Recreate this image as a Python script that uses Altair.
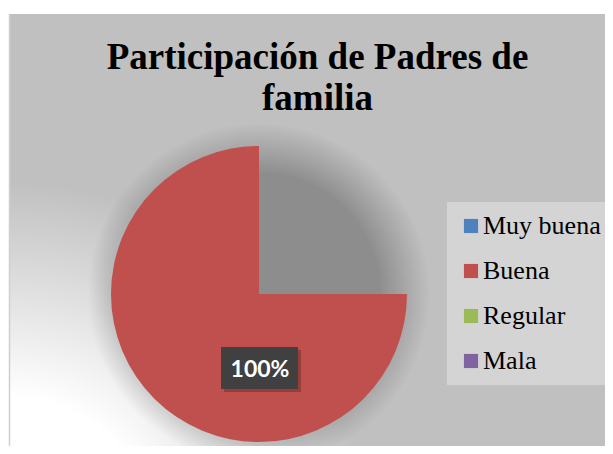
import math
import altair as alt
import pandas as pd

# ---- data ----
categorias = ["Muy buena", "Buena", "Regular", "Mala"]
porcentajes = [0, 100, 0, 0]
etiquetas = ["0%", "100%", "0%", "0%"]
colores = ["#4F81BD", "#C0504D", "#9BBB59", "#8064A2"]
titulo = ["Participación de Padres de", "familia"]

df = pd.DataFrame({
    "categoria": categorias,
    "porcentaje": porcentajes,
    "etiqueta": etiquetas,
    "orden": list(range(len(categorias))),
})

W, H = 597, 438
CX, CY = 251, 286
R = 148
TWO_PI = 2 * math.pi

blank = alt.Data(values=[{}])

# background with radial gradient (white bottom-left, gray elsewhere)
fondo = alt.Chart(blank).mark_rect(
    fill=alt.Gradient(
        gradient="radial",
        x1=0.0, y1=1.02, r1=0.24,
        x2=0.0, y2=1.02, r2=0.6,
        stops=[alt.GradientStop(color="#ffffff", offset=0),
               alt.GradientStop(color="#c0c0c0", offset=1)],
    ),
).encode(x=alt.value(1), x2=alt.value(W), y=alt.value(6), y2=alt.value(H))

borde = alt.Chart(blank).mark_rule(color="#cfcfcf", strokeWidth=1.5).encode(
    x=alt.value(1.5), y=alt.value(6), y2=alt.value(H)
)

# soft shadow under the pie
sombras = []
for k in range(17):
    r = 122 + 3 * k
    sombras.append(
        alt.Chart(blank).mark_arc(x=CX, y=CY, fill="black", fillOpacity=0.0145).encode(
            theta=alt.value(0), theta2=alt.value(TWO_PI), radius=alt.value(r)
        )
    )

pastel = alt.Chart(df).mark_arc(x=CX, y=CY, radius=R).encode(
    theta=alt.Theta("porcentaje:Q", stack=True,
                    scale=alt.Scale(domain=[0, 100], range=[math.pi / 2, TWO_PI])),
    color=alt.Color(
        "categoria:N", sort=categorias,
        scale=alt.Scale(domain=categorias, range=colores),
        legend=alt.Legend(
            title=None, orient="none", legendX=439, legendY=194, direction="vertical",
            fillColor="#d4d4d4", padding=11, symbolType="square", symbolSize=200,
            symbolStrokeWidth=0, symbolOpacity=1, labelFont="Liberation Serif",
            labelFontSize=26, labelColor="black", labelOffset={"expr": "-1"},
            rowPadding=19, labelLimit=300,
        ),
    ),
    order=alt.Order("orden:Q"),
)

caja_sombra = alt.Chart(blank).mark_rect(fill="black", fillOpacity=0.22).encode(
    x=alt.value(216), x2=alt.value(293), y=alt.value(342), y2=alt.value(384)
)
caja = alt.Chart(blank).mark_rect(fill="#404040").encode(
    x=alt.value(213), x2=alt.value(290), y=alt.value(339), y2=alt.value(381)
)

etiqueta = alt.Chart(df).transform_filter("datum.porcentaje > 0").mark_text(
    x=CX, y=CY, radius=75, font="Lato", fontWeight="bold", fontSize=23,
    color="white", align="center", baseline="middle", dx=1, dy=1,
).encode(
    theta=alt.Theta("porcentaje:Q", stack=True,
                    scale=alt.Scale(domain=[0, 100], range=[0, TWO_PI])),
    text="etiqueta:N",
)

titulo_capa = alt.Chart(blank).mark_text(
    font="Liberation Serif", fontWeight="bold", fontSize=37, color="black",
    align="center", baseline="alphabetic", lineHeight=41,
).encode(x=alt.value(309.5), y=alt.value(61), text=alt.value(titulo))

chart = alt.layer(
    fondo, borde, *sombras, pastel, caja_sombra, caja, etiqueta, titulo_capa
).resolve_scale(theta="independent").properties(
    width=W, height=H, autosize=alt.AutoSizeParams(type="none"), padding=0,
    background="white",
).configure_view(stroke=None)

chart.save("out.html", embed_options={"renderer": "svg", "actions": False})
